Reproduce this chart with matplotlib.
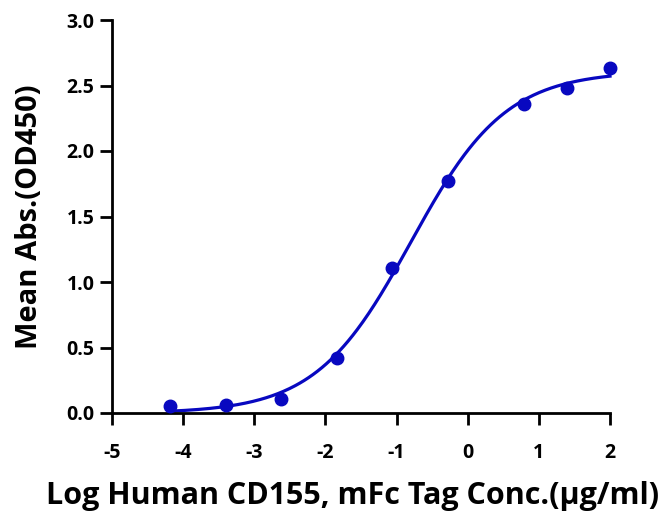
import numpy as np
import matplotlib
matplotlib.use('Agg')
import matplotlib.pyplot as plt

# Data (log concentration vs mean OD450)
log_conc = [-4.18, -3.40, -2.62, -1.84, -1.06, -0.28, 0.785, 1.395, 2.0]
mean_abs = [0.05, 0.064, 0.107, 0.42, 1.11, 1.77, 2.36, 2.48, 2.63]

x_ticks = [-5, -4, -3, -2, -1, 0, 1, 2]
y_ticks = [0.0, 0.5, 1.0, 1.5, 2.0, 2.5, 3.0]

color = '#0808c0'
plt.rcParams['font.family'] = ['Open Sans', 'DejaVu Sans']
plt.rcParams['font.weight'] = 'bold'

x = np.array(log_conc)
y = np.array(mean_abs)


# 4-parameter logistic fit: grid over logEC50 / hill, linear solve for bottom / top
def sigmoid(xx, c, h):
    return 1.0 / (1.0 + 10 ** ((c - xx) * h))


best = None
for c in np.linspace(-2, 0.5, 251):
    for h in np.linspace(0.3, 1.5, 121):
        s = sigmoid(x, c, h)
        A = np.column_stack([1 - s, s])
        coef, *_ = np.linalg.lstsq(A, y, rcond=None)
        err = np.sum((A @ coef - y) ** 2)
        if best is None or err < best[0]:
            best = (err, c, h, coef)

_, c_fit, h_fit, (bottom, top) = best
xs = np.linspace(x.min(), x.max(), 300)
ys = bottom + (top - bottom) * sigmoid(xs, c_fit, h_fit)

fig = plt.figure(figsize=(6.69, 5.16), dpi=100)
ax = fig.add_axes([112 / 669, 103 / 516, 498 / 669, 393 / 516])

ax.plot(xs, ys, color=color, lw=2.3, clip_on=False, zorder=2)
ax.plot(x, y, 'o', color=color, ms=9, clip_on=False, zorder=3)

ax.set_xlim(-5, 2)
ax.set_ylim(0, 3)
ax.set_xticks(x_ticks)
ax.set_yticks(y_ticks)
ax.set_xticklabels([str(t) for t in x_ticks], fontweight='bold')
ax.set_yticklabels(['%.1f' % t for t in y_ticks], fontweight='bold')

for side in ['top', 'right']:
    ax.spines[side].set_visible(False)
for side in ['left', 'bottom']:
    ax.spines[side].set_linewidth(2)
ax.tick_params(axis='both', length=8.6, width=2, labelsize=14, pad=4)
ax.tick_params(axis='x', pad=13)

ax.set_xlabel('Log Human CD155, mFc Tag Conc.(\u00b5g/ml)', fontsize=22, fontweight='bold')
ax.set_ylabel('Mean Abs.(OD450)', fontsize=21, fontweight='bold')
ax.xaxis.set_label_coords(0.484, -0.212)
ax.xaxis.label.set_va('center')
ax.yaxis.set_label_coords(-0.166, 0.5)
ax.yaxis.label.set_va('center')

fig.savefig('out.png', dpi=100)
